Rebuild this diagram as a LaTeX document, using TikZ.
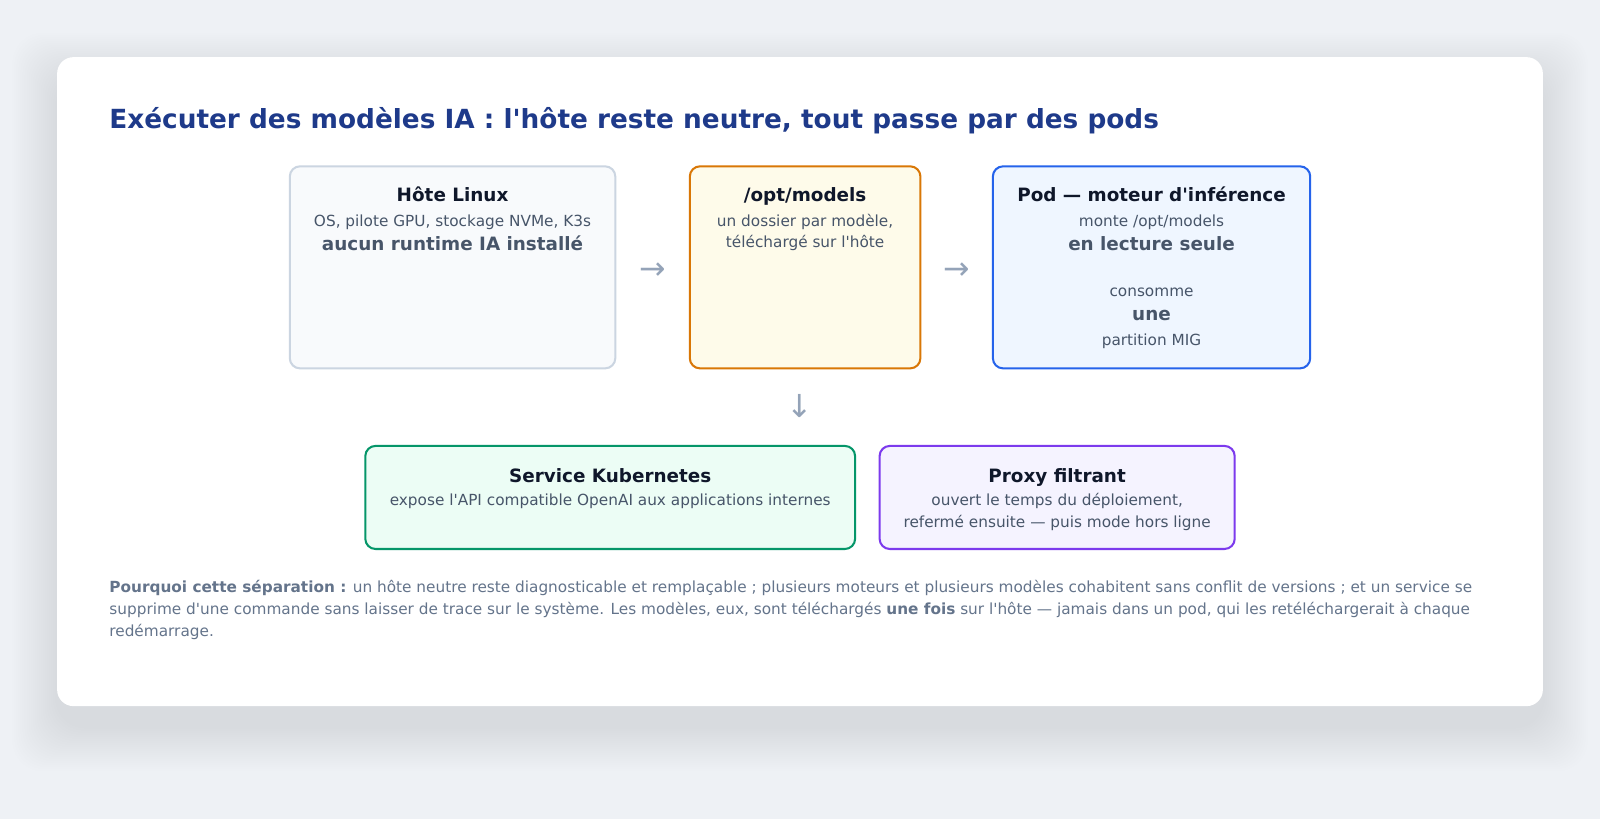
\documentclass[tikz,border=0pt]{standalone}
\usepackage{fontspec}
\setmainfont{DejaVu Sans}[Ligatures=TeXOff]
\usetikzlibrary{positioning,calc}

\definecolor{pagebg}{HTML}{EEF1F5}
\definecolor{shadowink}{HTML}{1E293B}
\definecolor{headink}{HTML}{1E3A8A}
\definecolor{nameink}{HTML}{0F172A}
\definecolor{subink}{HTML}{475569}
\definecolor{noteink}{HTML}{64748B}
\definecolor{flowink}{HTML}{94A3B8}
\definecolor{hostfill}{HTML}{F8FAFC}
\definecolor{hostline}{HTML}{CBD5E1}
\definecolor{modelfill}{HTML}{FEFBEA}
\definecolor{modelline}{HTML}{D97706}
\definecolor{podfill}{HTML}{EFF6FF}
\definecolor{podline}{HTML}{2563EB}
\definecolor{svcfill}{HTML}{ECFDF5}
\definecolor{svcline}{HTML}{059669}
\definecolor{proxyfill}{HTML}{F5F3FF}
\definecolor{proxyline}{HTML}{7C3AED}

\tikzset{
  box/.style={draw, line width=2pt, rounded corners=10pt, inner sep=0pt},
  linetext/.style={inner sep=0pt, text height=0.75em, text depth=0.25em},
  boxtitle/.style={linetext, text=nameink, font=\fontsize{18}{21}\selectfont\bfseries},
  boxsub/.style={linetext, text=subink, font=\fontsize{15}{18}\selectfont},
  boxkey/.style={linetext, text=subink, font=\fontsize{18}{21}\selectfont\bfseries},
  flowglyph/.style={linetext, text=flowink, font=\fontsize{31}{33}\selectfont},
}

\begin{document}
\begin{tikzpicture}[x=1pt,y=-1pt,node distance=24pt,on grid]
\useasboundingbox[fill=pagebg] (0,0) rectangle (1568,802.6);

% soft shadow under the card
\foreach \s in {2,4,...,44}
  \fill[shadowink, opacity=0.004, rounded corners=30pt]
    (56-\s,56-\s+20) rectangle (1512+\s,692+\s+20);
\fill[white, rounded corners=16pt] (56,56) rectangle (1512,692);

\node[anchor=west, linetext, text=headink, font=\fontsize{25.8}{30}\selectfont\bfseries]
  (headline) at (107,123) {Exécuter des modèles IA : l'hôte reste neutre, tout passe par des pods};

% top row
\node[box, fill=hostfill, draw=hostline, minimum width=319pt, minimum height=198pt] (host) at (443.5,262) {};
\node[box, fill=modelfill, draw=modelline, minimum width=226pt, minimum height=198pt] (models) at (789,262) {};
\node[box, fill=podfill, draw=podline, minimum width=311pt, minimum height=198pt] (pod) at (1128.5,262) {};

\node[boxtitle, below=28pt of host.north] (hostname) {Hôte Linux};
\node[boxsub, below=of hostname] (hostkit) {OS, pilote GPU, stockage NVMe, K3s};
\node[boxkey, below=of hostkit] (hostnone) {aucun runtime IA installé};

\node[boxtitle, below=28pt of models.north] (modelname) {/opt/models};
\node[boxsub, below=of modelname] (modelper) {un dossier par modèle,};
\node[boxsub, below=21pt of modelper] (modelget) {téléchargé sur l'hôte};

\node[boxtitle, below=28pt of pod.north] (podname) {Pod — moteur d'inférence};
\node[boxsub, below=of podname] (podmount) {monte /opt/models};
\node[boxkey, below=of podmount] (podro) {en lecture seule};
\node[boxsub, below=45pt of podro] (poduse) {consomme};
\node[boxkey, below=23pt of poduse] (podone) {une};
\node[boxsub, below=25pt of podone] (podmig) {partition MIG};

% bottom row
\node[box, fill=svcfill, draw=svcline, minimum width=480pt, minimum height=101pt] (service) at (598,487.5) {};
\node[box, fill=proxyfill, draw=proxyline, minimum width=348pt, minimum height=101pt] (proxy) at (1036,487.5) {};

\node[boxtitle, below=29pt of service.north] (svcname) {Service Kubernetes};
\node[boxsub, below=23pt of svcname] (svcapi) {expose l'API compatible OpenAI aux applications internes};

\node[boxtitle, below=29pt of proxy.north] (proxyname) {Proxy filtrant};
\node[boxsub, below=23pt of proxyname] (proxyopen) {ouvert le temps du déploiement,};
\node[boxsub, below=21pt of proxyopen] (proxyshut) {refermé ensuite — puis mode hors ligne};

% flow glyphs
\coordinate (gap1) at ($(host.east)!0.5!(models.west)$);
\coordinate (gap2) at ($(models.east)!0.5!(pod.west)$);
\node[flowglyph, below=4pt of gap1] (hop1) {→};
\node[flowglyph, below=4pt of gap2] (hop2) {→};
\coordinate (rowmid) at ($(host.south west)!0.5!(pod.south east)$);
\node[flowglyph, below=39pt of rowmid] (hop3) {↓};

% footnote
\node[anchor=north west, inner sep=0pt, align=left, text=noteink,
      font=\fontsize{15}{22}\selectfont] (why) at (107,568)
  {\textbf{Pourquoi cette séparation :} un hôte neutre reste diagnosticable et remplaçable ; plusieurs moteurs et plusieurs modèles cohabitent sans conflit de versions ; et un service se\\
   supprime d'une commande sans laisser de trace sur le système. Les modèles, eux, sont téléchargés \textbf{une fois} sur l'hôte — jamais dans un pod, qui les retéléchargerait à chaque\\
   redémarrage.};
\end{tikzpicture}
\end{document}
